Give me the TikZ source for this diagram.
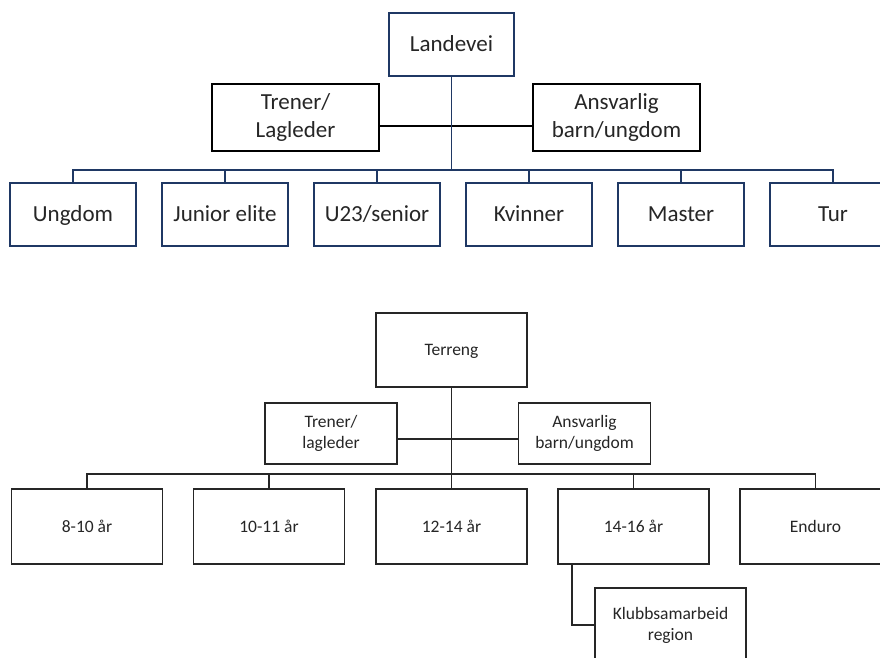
\documentclass[tikz,border=0pt]{standalone}
\usepackage{fontspec}
\setmainfont{Carlito}
\usetikzlibrary{calc}
\definecolor{navy}{RGB}{31,56,100}
\definecolor{ink}{RGB}{38,38,38}
\tikzset{
	topbox/.style={draw=navy, line width=1.8pt, fill=white, text=ink, inner sep=0pt, align=center, font=\fontsize{23}{28}\selectfont},
	topside/.style={topbox, draw=black, line width=1.6pt},
	toplink/.style={draw=navy, line width=1.8pt},
	topone/.style={text height=14.5pt, text depth=0pt},
	botbox/.style={draw=black!85, line width=1.6pt, fill=white, text=ink, inner sep=0pt, align=center, font=\fontsize{17.5}{21}\selectfont},
	botlink/.style={draw=black!85, line width=1.6pt},
	botone/.style={text height=11pt, text depth=0pt}
}
\begin{document}
\begin{tikzpicture}[x=1pt, y=-1pt]
				\useasboundingbox[fill=white] (0,0) rectangle (880,657);
				
				\node[topbox, topone, minimum width=125pt, minimum height=63pt] (land) at (451.5,44.5) {Landevei};
				\node[topside, minimum width=167pt, minimum height=67pt] (trenerA) at (295.5,117.5) {Trener/\\Lagleder};
				\node[topside, minimum width=167pt, minimum height=67pt] (ansvA) at (616.5,117.5) {Ansvarlig\\barn/ungdom};
				\coordinate (busA) at (451.5,170);
				
				\node[topbox, topone, minimum width=126pt, minimum height=63pt] (ungdom) at (73,214.5) {Ungdom};
				\node[topbox, topone, minimum width=126pt, minimum height=63pt] (junior) at (225,214.5) {Junior elite};
				\node[topbox, topone, minimum width=126pt, minimum height=63pt] (senior) at (377,214.5) {U23/senior};
				\node[topbox, topone, minimum width=126pt, minimum height=63pt] (kvinner) at (529,214.5) {Kvinner};
				\node[topbox, topone, minimum width=126pt, minimum height=63pt] (master) at (681,214.5) {Master};
				\node[topbox, topone, minimum width=126pt, minimum height=63pt] (tur) at (833,214.5) {Tur};
				
				\draw[line width=1.6pt] ([yshift=-8.5pt]trenerA.east) -- ([yshift=-8.5pt]ansvA.west);
				\draw[toplink] (land.south) -- (busA);
				\draw[toplink] (ungdom.north) |- (busA);
				\draw[toplink] (junior.north) |- (busA);
				\draw[toplink] (senior.north) |- (busA);
				\draw[toplink] (kvinner.north) |- (busA);
				\draw[toplink] (master.north) |- (busA);
				\draw[toplink] (tur.north) |- (busA);
				
				\node[botbox, botone, minimum width=151pt, minimum height=74pt] (terreng) at (451.5,350) {Terreng};
				\node[botbox, minimum width=132pt, minimum height=61pt] (trenerB) at (331,433.5) {Trener/\\lagleder};
				\node[botbox, minimum width=132pt, minimum height=61pt] (ansvB) at (584.5,433.5) {Ansvarlig\\barn/ungdom};
				\coordinate (busB) at (451.5,474);
				
				\node[botbox, botone, minimum width=151pt, minimum height=75pt] (aar8) at (87,526.5) {8-10 år};
				\node[botbox, botone, minimum width=151pt, minimum height=75pt] (aar10) at (269,526.5) {10-11 år};
				\node[botbox, botone, minimum width=151pt, minimum height=75pt] (aar12) at (451.5,526.5) {12-14 år};
				\node[botbox, botone, minimum width=151pt, minimum height=75pt] (aar14) at (633.5,526.5) {14-16 år};
				\node[botbox, botone, minimum width=151pt, minimum height=75pt] (enduro) at (815.5,526.5) {Enduro};
				\node[botbox, minimum width=151pt, minimum height=74pt] (klubb) at (670.5,625) {Klubbsamarbeid\\region};
				
				\draw[botlink] ([yshift=-5.5pt]trenerB.east) -- ([yshift=-5.5pt]ansvB.west);
				\draw[botlink] (terreng.south) -- (busB);
				\draw[botlink] (aar8.north) |- (busB);
				\draw[botlink] (aar10.north) |- (busB);
				\draw[botlink] (aar12.north) -- (busB);
				\draw[botlink] (aar14.north) |- (busB);
				\draw[botlink] (enduro.north) |- (busB);
				\draw[botlink] ([xshift=-61.5pt]aar14.south) |- (klubb.west);
			\end{tikzpicture}
\end{document}
